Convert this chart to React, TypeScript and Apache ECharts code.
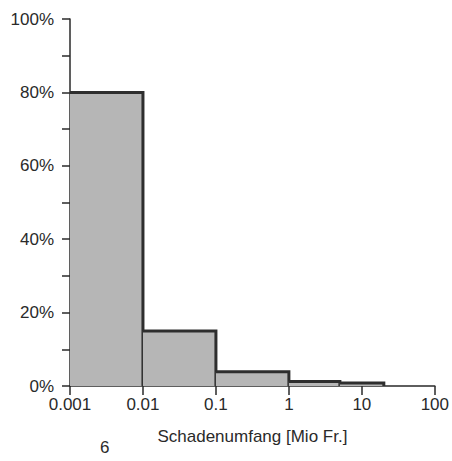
import React, { useEffect, useRef } from "react";
import * as echarts from "echarts";

const binStart = [0.001, 0.01, 0.1, 1, 5];
const binEnd = [0.01, 0.1, 1, 5, 20];
const shares = [80, 15, 3.9, 1.2, 0.8];
const xTickLabels = ["0.001", "0.01", "0.1", "1", "10", "100"];
const yTickLabels = ["0%", "20%", "40%", "60%", "80%", "100%"];
const xTitle = "Schadenumfang [Mio Fr.]";
const pageNumber = "6";

const FONT = "'Liberation Sans', Arial, sans-serif";

export default function App() {
  const ref = useRef<HTMLDivElement>(null);
  useEffect(() => {
    const chart = echarts.init(ref.current!, null, { renderer: "svg" });
    const data = binStart.map((s, i) => [s, binEnd[i], shares[i]]);
    chart.setOption({
      animation: false,
      backgroundColor: "#ffffff",
      grid: { left: 70, right: 13, top: 19, bottom: 75 },
      xAxis: {
        type: "log",
        logBase: 10,
        min: 0.001,
        max: 100,
        name: xTitle,
        nameLocation: "middle",
        nameGap: 42,
        nameTextStyle: { fontFamily: FONT, fontSize: 17, color: "#2a2a2a" },
        axisLine: { show: true, lineStyle: { color: "#2a2a2a", width: 1.5 } },
        axisTick: { show: true, length: 9, lineStyle: { color: "#2a2a2a", width: 1.5 } },
        minorTick: { show: false },
        splitLine: { show: false },
        axisLabel: {
          margin: 10,
          fontFamily: FONT,
          fontSize: 17,
          color: "#2a2a2a",
          formatter: (v: number) => xTickLabels[Math.round(Math.log10(v)) + 3] ?? "",
        },
      },
      yAxis: {
        type: "value",
        min: 0,
        max: 100,
        interval: 20,
        axisLine: { show: true, lineStyle: { color: "#2a2a2a", width: 1.5 } },
        axisTick: { show: true, length: 8, lineStyle: { color: "#2a2a2a", width: 1.5 } },
        minorTick: { show: true, splitNumber: 2, length: 8, lineStyle: { color: "#2a2a2a", width: 1.5 } },
        splitLine: { show: false },
        axisLabel: {
          margin: 16,
          fontFamily: FONT,
          fontSize: 17,
          color: "#2a2a2a",
          formatter: (v: number) => yTickLabels[Math.round(v / 20)] ?? "",
        },
      },
      series: [
        {
          type: "custom",
          data,
          encode: { x: [0, 1], y: 2 },
          renderItem: (params: any, api: any) => {
            const x0 = api.value(0);
            const x1 = api.value(1);
            const y = api.value(2);
            const p0 = api.coord([x0, y]);
            const p1 = api.coord([x1, 0]);
            return {
              type: "group",
              children: [
                {
                  type: "rect",
                  shape: { x: p0[0], y: p0[1], width: p1[0] - p0[0], height: p1[1] - p0[1] },
                  style: { fill: "#b6b6b6", stroke: null },
                },
                {
                  type: "polyline",
                  shape: {
                    points: [
                      [p0[0], p0[1]],
                      [p1[0], p0[1]],
                      [p1[0], p1[1]],
                    ],
                  },
                  style: { stroke: "#2e2e2e", lineWidth: 3, fill: null },
                },
              ],
            };
          },
        },
      ],
      graphic: [
        {
          type: "text",
          left: 100,
          top: 439,
          style: { text: pageNumber, font: `17px ${FONT}`, fill: "#2a2a2a" },
        },
      ],
    });
    return () => chart.dispose();
  }, []);
  return (
    <div
      ref={ref}
      style={{ position: "fixed", left: 0, top: 0, width: 452, height: 461 }}
    />
  );
}
